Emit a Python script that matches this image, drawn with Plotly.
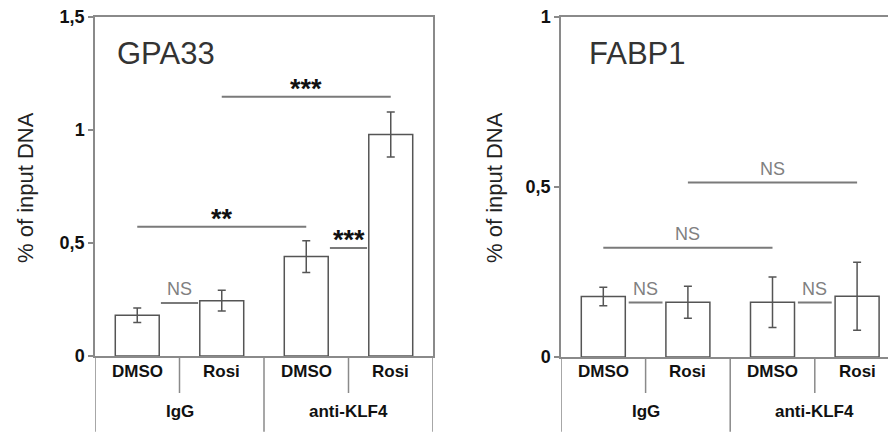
import plotly.graph_objects as go

# ---------------- data ----------------
treatments = ["DMSO", "Rosi", "DMSO", "Rosi"]
antibodies = ["IgG", "anti-KLF4"]

gpa33_values = [0.18, 0.245, 0.44, 0.98]
gpa33_errors = [0.032, 0.046, 0.07, 0.10]

fabp1_values = [0.178, 0.161, 0.161, 0.179]
fabp1_errors = [0.027, 0.047, 0.074, 0.10]

gpa33_ticks = [0, 0.5, 1, 1.5]
gpa33_ticktext = ["0", "0,5", "1", "1,5"]
fabp1_ticks = [0, 0.5, 1]
fabp1_ticktext = ["0", "0,5", "1"]

# comparisons: (from bar index, to bar index, y-level, label)
gpa33_comparisons = [
    (1, 3, 1.147, "***"),
    (0, 2, 0.572, "**"),
    (2.28, 2.72, 0.478, "***"),
    (0.28, 0.72, 0.234, "NS"),
]
fabp1_comparisons = [
    (1, 3, 0.513, "NS"),
    (0, 2, 0.321, "NS"),
    (0.3, 0.7, 0.16, "NS"),
    (2.3, 2.7, 0.16, "NS"),
]

# ---------------- styling ----------------
W, H = 888, 436
AX = "#8a8a8a"
BAR_LINE = "#555555"
SIG = "#7a7a7a"
FONT = "Liberation Sans, Arial, sans-serif"

xpos = list(range(len(treatments)))

fig = go.Figure()

panels = [
    dict(vals=gpa33_values, errs=gpa33_errors, xa="x", ya="y", title="GPA33",
         comps=gpa33_comparisons, ticks=gpa33_ticks, tt=gpa33_ticktext, ymax=1.5,
         xdom=[95 / W, 433 / W], ydom=[80 / H, 419 / H], xr=[-0.5, 3.5],
         title_x=115, ytitle_x=25),
    dict(vals=fabp1_values, errs=fabp1_errors, xa="x2", ya="y2", title="FABP1",
         comps=fabp1_comparisons, ticks=fabp1_ticks, tt=fabp1_ticktext, ymax=1.0,
         xdom=[561 / W, 1.0], ydom=[79 / H, 419 / H], xr=[-0.5, -0.5 + 327 / 84.6],
         title_x=587, ytitle_x=494),
]

shapes = []
annotations = []

for i, p in enumerate(panels):
    fig.add_trace(go.Bar(
        x=xpos, y=p["vals"], xaxis=p["xa"], yaxis=p["ya"],
        width=0.52,
        marker=dict(color="white", line=dict(color=BAR_LINE, width=1.5)),
        error_y=dict(type="data", array=p["errs"], visible=True,
                     color=BAR_LINE, thickness=1.5, width=4),
        showlegend=False, hoverinfo="skip",
    ))
    sfx = "" if i == 0 else "2"
    fig.update_layout(**{
        f"xaxis{sfx}": dict(domain=p["xdom"], range=p["xr"], anchor=p["ya"],
                            automargin=False,
                            showgrid=False, zeroline=False, showline=True,
                            linecolor=AX, linewidth=1.5, mirror=True,
                            showticklabels=False, ticks=""),
        f"yaxis{sfx}": dict(domain=p["ydom"], range=[0, p["ymax"]], anchor=p["xa"],
                            automargin=False,
                            showgrid=False, zeroline=False, showline=True,
                            linecolor=AX, linewidth=1.5, mirror=(i == 0),
                            tickvals=p["ticks"], ticktext=p["tt"],
                            ticks="outside", ticklen=5, tickcolor=AX, tickwidth=1.5,
                            tickfont=dict(family=FONT, size=18, color="#111", weight="bold")),
    })
    xref = p["xa"]
    ybot = p["ydom"][0]
    # category dividers below axis
    for xv, long_ in [(-0.5, True), (0.5, False), (1.5, True), (2.5, False), (3.5, True)]:
        shapes.append(dict(type="line", xref=xref, yref="paper", x0=xv, x1=xv,
                           y0=ybot, y1=(0.01 if long_ else 43 / H),
                           line=dict(color=AX, width=1.5)))
    # labels
    for xv, t in zip(xpos, treatments):
        annotations.append(dict(x=xv, y=(436 - 383) / H, xref=xref, yref="paper",
                                text=t, showarrow=False,
                                font=dict(family=FONT, size=17, color="#111", weight="bold")))
    for gi, t in enumerate(antibodies):
        annotations.append(dict(x=gi * 2 + 0.5, y=(436 - 423) / H, xref=xref, yref="paper",
                                text=t, showarrow=False,
                                font=dict(family=FONT, size=17, color="#111", weight="bold")))
    # panel title
    annotations.append(dict(x=p["title_x"] / W, y=(436 - 53) / H, xref="paper", yref="paper",
                            xanchor="left", yanchor="middle", text=p["title"], showarrow=False,
                            font=dict(family=FONT, size=31, color="#333")))
    # y title
    annotations.append(dict(x=p["ytitle_x"] / W, y=(436 - 188) / H, xref="paper", yref="paper",
                            text="% of input DNA", textangle=-90, showarrow=False,
                            xanchor="center", yanchor="middle",
                            font=dict(family=FONT, size=22, color="#222")))
    # comparisons
    yref = p["ya"]
    for a, b, yl, lab in p["comps"]:
        shapes.append(dict(type="line", xref=xref, yref=yref, x0=a, x1=b, y0=yl, y1=yl,
                           line=dict(color=SIG, width=2)))
        if lab == "NS":
            annotations.append(dict(x=(a + b) / 2, y=yl, xref=xref, yref=yref,
                                    text=lab, showarrow=False, yanchor="bottom", yshift=2,
                                    font=dict(family=FONT, size=18, color="#808080")))
        else:
            annotations.append(dict(x=(a + b) / 2, y=yl, xref=xref, yref=yref,
                                    text=lab, showarrow=False, yanchor="bottom", yshift=-9,
                                    font=dict(family=FONT, size=27, color="#111", weight="bold")))

fig.update_layout(
    template="none",
    width=W, height=H,
    margin=dict(l=0, r=0, t=0, b=0, pad=0),
    paper_bgcolor="white", plot_bgcolor="white",
    shapes=shapes, annotations=annotations,
    bargap=0.48,
)

fig.write_html("out.html", config={"displayModeBar": False},
               post_script="document.body.style.margin='0px';")
